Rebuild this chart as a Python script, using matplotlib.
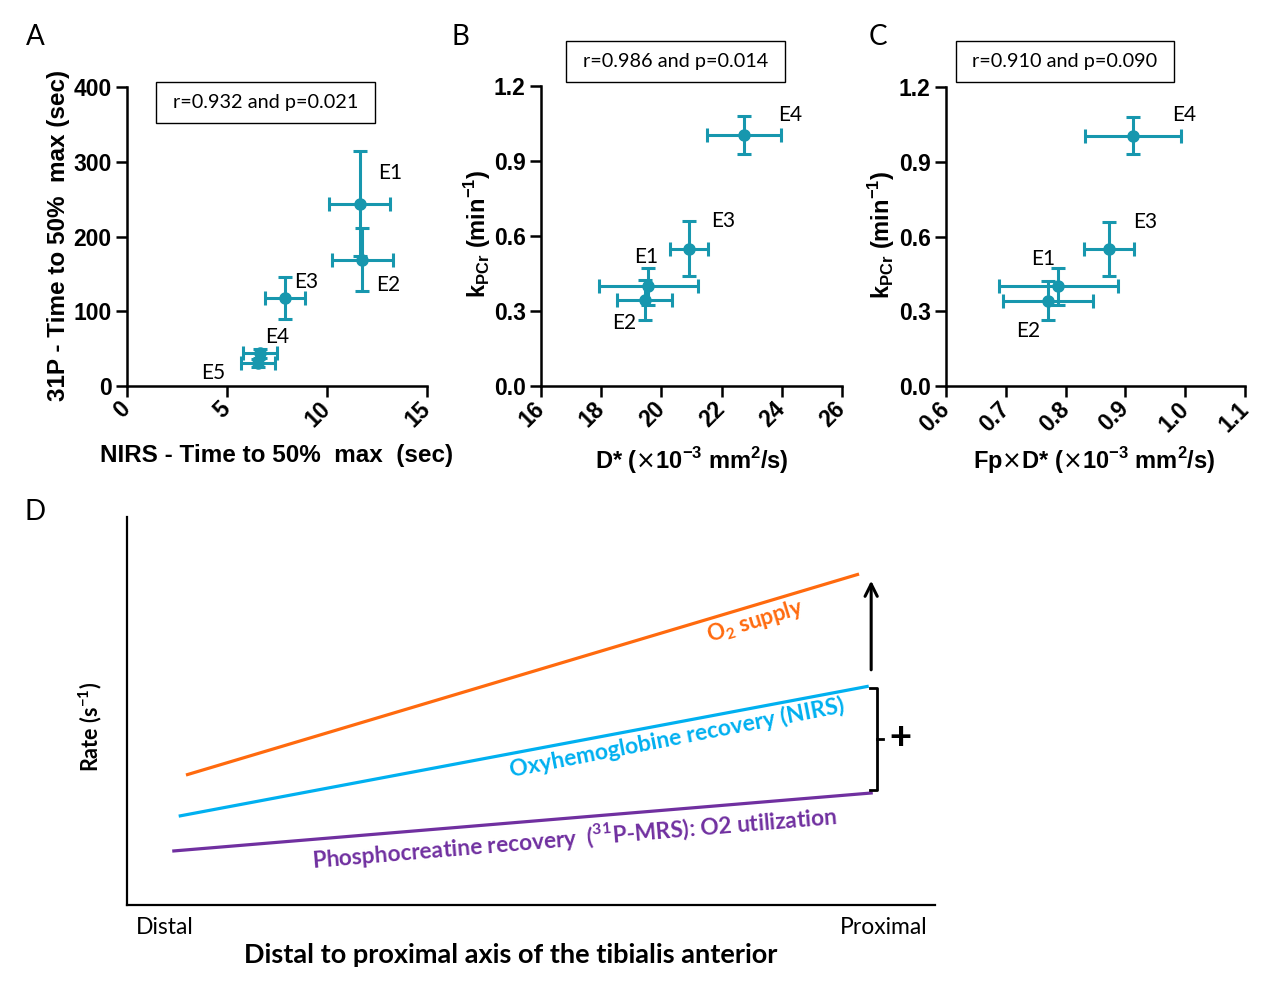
import numpy as np
import matplotlib
matplotlib.use("Agg")
import matplotlib.pyplot as plt
from matplotlib.patches import Rectangle


""" Data """

# Panel A: NIRS vs 31P time to 50% max
a_names = ["E1", "E2", "E3", "E4", "E5"]
a_nirs = [11.63, 11.77, 7.90, 6.65, 6.53]
a_nirs_err = [1.54, 1.52, 1.00, 0.87, 0.85]
a_p31 = [244, 169, 118, 44, 31]
a_p31_err = [70, 42, 28, 6, 5]
a_stats = "r=0.932 and p=0.021"

# Panel B: D* vs kPCr
bc_names = ["E1", "E2", "E3", "E4"]
b_dstar = [19.56, 19.44, 20.92, 22.74]
b_dstar_err = [1.64, 0.92, 0.63, 1.23]
bc_kpcr = [0.40, 0.343, 0.55, 1.005]
bc_kpcr_err = [0.074, 0.08, 0.11, 0.075]
b_stats = "r=0.986 and p=0.014"

# Panel C: Fp x D* vs kPCr
c_fpd = [0.788, 0.771, 0.873, 0.913]
c_fpd_err = [0.100, 0.075, 0.042, 0.080]
c_stats = "r=0.910 and p=0.090"

# Panel D: schematic rates along the muscle (distal -> proximal)
d_x_o2 = [0.073, 0.906]
d_o2 = [0.335, 0.853]
d_x_nirs = [0.064, 0.918]
d_nirs = [0.229, 0.564]
d_x_pcr = [0.056, 0.923]
d_pcr = [0.139, 0.289]

a_xticks = [0, 5, 10, 15]
a_yticks = [0, 100, 200, 300, 400]
b_xticks = [16, 18, 20, 22, 24, 26]
c_xticks = [0.6, 0.7, 0.8, 0.9, 1.0, 1.1]
bc_yticks = [0.0, 0.3, 0.6, 0.9, 1.2]


""" Style """

W, H = 1261, 981
TEAL = "#1797ae"
ORANGE = "#ff6a0e"
BLUE = "#00b0f0"
PURPLE = "#7030a0"
ARIAL = "Liberation Sans"
CAL = ["Lato", "DejaVu Sans"]

plt.rcParams["font.family"] = CAL
plt.rcParams["mathtext.fontset"] = "custom"

fig = plt.figure(figsize=(W / 100, H / 100), dpi=100)


def px_axes(left, top, right, bottom):
    return fig.add_axes([left / W, 1 - bottom / H, (right - left) / W, (bottom - top) / H])


def fig_txt(x, y, s, **kw):
    fig.text(x / W, 1 - y / H, s, ha="center", va="center", **kw)


def stats_box(left, top, right, bottom, s):
    fig.patches.append(Rectangle((left / W, 1 - bottom / H), (right - left) / W, (bottom - top) / H,
                                 transform=fig.transFigure, fill=False, ec="black", lw=1.0))
    fig_txt((left + right) / 2, (top + bottom) / 2, s, fontsize=14.3, family=CAL)


def style_scatter_axes(ax, xticks, yticks, fmt_x, fmt_y):
    for side in ["top", "right"]:
        ax.spines[side].set_visible(False)
    for side in ["left", "bottom"]:
        ax.spines[side].set_linewidth(1.8)
    ax.set_xlim(xticks[0], xticks[-1])
    ax.set_ylim(yticks[0], yticks[-1])
    ax.set_xticks(xticks)
    ax.set_yticks(yticks)
    ax.set_xticklabels([fmt_x.format(t) for t in xticks], rotation=45, ha="right", va="center",
                       rotation_mode="anchor", fontsize=16.5, fontweight="bold", family=ARIAL)
    ax.set_yticklabels([fmt_y.format(t) for t in yticks], fontsize=16.5, fontweight="bold", family=ARIAL)
    ax.tick_params(length=8, width=1.8, pad=3)
    ax.tick_params(axis="x", pad=6)


def draw_points(ax, x, xerr, y, yerr, names, offsets):
    ax.errorbar(x, y, xerr=xerr, yerr=yerr, fmt="o", color=TEAL, ms=8, elinewidth=2.2,
                capsize=5, capthick=2.2, clip_on=False, zorder=3)
    for n, xi, yi, off in zip(names, x, y, offsets):
        ax.annotate(n, (xi, yi), xytext=off, textcoords="offset points", ha="center",
                    va="center_baseline", fontsize=15, family=CAL)


""" Panel A """

ax = px_axes(127, 87, 427, 386)
style_scatter_axes(ax, a_xticks, a_yticks, "{:d}", "{:d}")
draw_points(ax, a_nirs, a_nirs_err, a_p31, a_p31_err, a_names,
            [(21.8, 23.5), (18.5, -17), (15, 12.7), (12.6, 12.8), (-32, -6)])
ax.set_xlabel("NIRS - Time to 50%  max  (sec)", fontsize=17.5, fontweight="bold", family=ARIAL)
ax.xaxis.set_label_coords(0.497, -0.231)
ax.xaxis.label.set_va("center")
ax.set_ylabel("31P - Time to 50%  max (sec)", fontsize=17.5, fontweight="bold", family=ARIAL)
ax.yaxis.set_label_coords(-0.227, 0.502)
ax.yaxis.label.set_va("center")
stats_box(156, 82, 375, 123, a_stats)

""" Panel B """

k_label = r"k$_{\mathdefault{PCr}}$ (min$^{\mathdefault{-1}}$)"

ax = px_axes(541, 86, 842, 386)
style_scatter_axes(ax, b_xticks, bc_yticks, "{:d}", "{:.1f}")
draw_points(ax, b_dstar, b_dstar_err, bc_kpcr, bc_kpcr_err, bc_names,
            [(-1.3, 22.3), (-14.9, -14.8), (24.8, 21), (33.5, 16)])
ax.set_xlabel(r"D* ($\times$10$^{\mathdefault{-3}}$ mm$^{\mathdefault{2}}$/s)", fontsize=17,
              fontweight="bold", family=ARIAL)
ax.xaxis.set_label_coords(0.50, -0.25)
ax.xaxis.label.set_va("center")
ax.set_ylabel(k_label, fontsize=17, fontweight="bold", family=ARIAL)
ax.yaxis.set_label_coords(-0.21, 0.507)
ax.yaxis.label.set_va("center")
stats_box(566, 41, 785, 82, b_stats)

""" Panel C """

ax = px_axes(946, 87, 1245, 386)
style_scatter_axes(ax, c_xticks, bc_yticks, "{:.1f}", "{:.1f}")
draw_points(ax, c_fpd, c_fpd_err, bc_kpcr, bc_kpcr_err, bc_names,
            [(-11.3, 21.4), (-14.2, -20.4), (25.7, 21.1), (36.9, 16)])
ax.set_xlabel(r"Fp$\times$D* ($\times$10$^{\mathdefault{-3}}$ mm$^{\mathdefault{2}}$/s)", fontsize=17,
              fontweight="bold", family=ARIAL)
ax.xaxis.set_label_coords(0.495, -0.25)
ax.xaxis.label.set_va("center")
ax.set_ylabel(k_label, fontsize=17, fontweight="bold", family=ARIAL)
ax.yaxis.set_label_coords(-0.217, 0.507)
ax.yaxis.label.set_va("center")
stats_box(956, 41, 1174, 82, c_stats)

""" Panel D """

ax = px_axes(127, 517, 935, 905)
ax.set_xlim(0, 1)
ax.set_ylim(0, 1)
for side in ["top", "right"]:
    ax.spines[side].set_visible(False)
for side in ["left", "bottom"]:
    ax.spines[side].set_linewidth(1.6)
ax.set_xticks([])
ax.set_yticks([])

ax.plot(d_x_o2, d_o2, color=ORANGE, lw=2.3, solid_capstyle="butt")
ax.plot(d_x_nirs, d_nirs, color=BLUE, lw=2.3, solid_capstyle="butt")
ax.plot(d_x_pcr, d_pcr, color=PURPLE, lw=2.3, solid_capstyle="butt")

ax.text(0.777, 0.732, r"O$_{\mathdefault{2}}$ supply", color=ORANGE, fontsize=16, fontweight="bold",
        rotation=17, ha="center", va="center", rotation_mode="anchor")
ax.text(0.681, 0.430, "Oxyhemoglobine recovery (NIRS)", color=BLUE, fontsize=16.5, fontweight="bold",
        rotation=11, ha="center", va="center", rotation_mode="anchor")
ax.text(0.554, 0.173, r"Phosphocreatine recovery  ($^{\mathdefault{31}}$P-MRS): O2 utilization",
        color=PURPLE, fontsize=16.3, fontweight="bold", rotation=4.8, ha="center", va="center",
        rotation_mode="anchor")

# arrow from the NIRS end up towards the O2 supply end
xa = d_x_nirs[1] + 0.003
ax.annotate("", xy=(xa, d_o2[1] - 0.01), xytext=(xa, d_nirs[1] + 0.035),
            arrowprops=dict(arrowstyle="->", lw=2.2, color="black", mutation_scale=22))

# bracket between PCr and NIRS ends
xb = d_x_pcr[1] + 0.005
yt, yb = d_nirs[1] - 0.005, d_pcr[1] + 0.007
ym = (yt + yb) / 2
ax.plot([xb - 0.008, xb, xb, xb - 0.008], [yt, yt, yb, yb], color="black", lw=2.0, clip_on=False)
ax.plot([xb, xb + 0.008], [ym, ym], color="black", lw=2.0, clip_on=False)
ax.text(xb + 0.029, ym, "+", fontsize=27, fontweight="bold", ha="center", va="center", family=ARIAL)

ax.text(0.047, -0.057, "Distal", fontsize=16.5, ha="center", va="center")
ax.text(0.937, -0.057, "Proximal", fontsize=16.5, ha="center", va="center")
ax.text(0.475, -0.129, "Distal to proximal axis of the tibialis anterior", fontsize=19.5,
        fontweight="bold", ha="center", va="center")
ax.text(-0.046, 0.459, r"Rate (s$^{\mathdefault{-1}}$)", fontsize=15.5, fontweight="bold",
        rotation=90, ha="center", va="center")

""" Panel letters """

for letter, x, y in [("A", 35, 37), ("B", 460, 37), ("C", 878, 37), ("D", 35, 512)]:
    fig_txt(x, y, letter, fontsize=20)

fig.savefig("out.png", dpi=100)
